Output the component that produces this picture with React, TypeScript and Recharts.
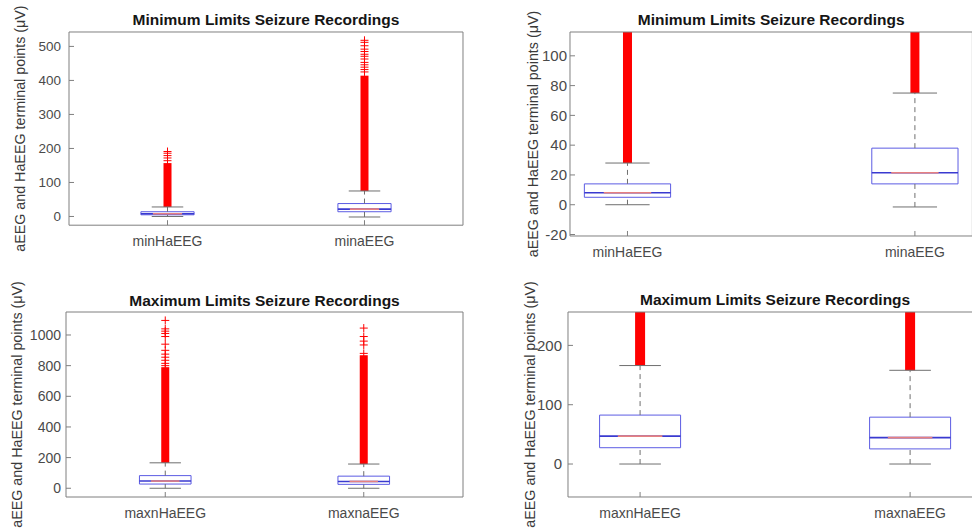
import React from 'react';
import { ComposedChart, XAxis, YAxis, ReferenceArea, ReferenceLine, Scatter, Label } from 'recharts';

// ---------- DATA ----------
const minCategories = ['minHaEEG', 'minaEEG'];
const maxCategories = ['maxnHaEEG', 'maxnaEEG'];

// box statistics: [lower whisker, q1, median, q3, upper whisker]
const minHaEEGStats = [0, 5, 8, 14, 28];
const minaEEGStats = [-1.5, 14, 21.5, 38, 75];
const maxnHaEEGStats = [0, 27.5, 47, 82.5, 166];
const maxnaEEGStats = [0, 25.5, 44.5, 79, 158];

// ranges where outliers are packed so densely they form a solid column: [from, to]
const minHaEEGDense = [28, 157];
const minaEEGDense = [75, 414];
const maxnHaEEGDense = [166, 790];
const maxnaEEGDense = [158, 868];

// isolated outliers above the dense run
const minHaEEGOutliers = [164, 172, 179, 186, 191];
const minaEEGOutliers = [425, 432, 439, 446, 453, 463, 471, 477, 485, 492, 502, 512, 518];
const maxnHaEEGOutliers = [800, 815, 835, 855, 875, 900, 940, 990, 1010, 1025, 1040, 1095];
const maxnaEEGOutliers = [880, 935, 960, 990, 1045];

// tick values
const minFullTicks = [0, 100, 200, 300, 400, 500];
const minZoomTicks = [-20, 0, 20, 40, 60, 80, 100];
const maxFullTicks = [0, 200, 400, 600, 800, 1000];
const maxZoomTicks = [0, 100, 200];
const categoryTicks = [1, 2];

const minTitle = 'Minimum Limits Seizure Recordings';
const maxTitle = 'Maximum Limits Seizure Recordings';
const yLabel = 'aEEG and HaEEG terminal points (\u03bcV)';

// ---------- LAYOUT ----------
const FONT = '"Liberation Sans", Arial, Helvetica, sans-serif';
const AXIS_W = 60;
const TOP_H = 30;
const BOTTOM_H = 40;
const RIGHT_W = 1;
const AXIS_COLOR = '#7f7f7f';
const TICK_COLOR = '#4a4a4a';
const BOX_COLOR = '#5b5be3';
const MEDIAN_BLUE = '#3a3ad0';
const MEDIAN_RED = '#e68080';
const WHISKER_COLOR = '#6e6e6e';
const OUT_COLOR = '#ff0000';

type Series = { stats: number[]; dense: number[]; outliers: number[] };

type PanelCfg = {
  plotLeft: number; plotTop: number; plotRight: number; plotBottom: number;
  xDomain: [number, number]; yDomain: [number, number]; yTicks: number[];
  categories: string[]; series: Series[]; title: string;
  boxHalf: number; capHalf: number; labelGap: number; yTickMargin: number; bandW: number;
  yTickFont: number;
};

const minSeries: Series[] = [
  { stats: minHaEEGStats, dense: minHaEEGDense, outliers: minHaEEGOutliers },
  { stats: minaEEGStats, dense: minaEEGDense, outliers: minaEEGOutliers },
];
const maxSeries: Series[] = [
  { stats: maxnHaEEGStats, dense: maxnHaEEGDense, outliers: maxnHaEEGOutliers },
  { stats: maxnaEEGStats, dense: maxnaEEGDense, outliers: maxnaEEGOutliers },
];

const panels: PanelCfg[] = [
  {
    plotLeft: 69, plotTop: 32.3, plotRight: 463, plotBottom: 225.5,
    xDomain: [0.5, 2.5], yDomain: [-25.6, 542.4], yTicks: minFullTicks,
    categories: minCategories, series: minSeries, title: minTitle,
    boxHalf: 0.135, capHalf: 0.08, labelGap: 49, yTickMargin: 13, bandW: 8, yTickFont: 13.5,
  },
  {
    plotLeft: 570, plotTop: 32, plotRight: 972.4, plotBottom: 236,
    xDomain: [0.8, 2.2], yDomain: [-21, 116], yTicks: minZoomTicks,
    categories: minCategories, series: minSeries, title: minTitle,
    boxHalf: 0.15, capHalf: 0.077, labelGap: 37, yTickMargin: 8, bandW: 9, yTickFont: 15,
  },
  {
    plotLeft: 66, plotTop: 312, plotRight: 463, plotBottom: 497,
    xDomain: [0.5, 2.5], yDomain: [-57, 1150], yTicks: maxFullTicks,
    categories: maxCategories, series: maxSeries, title: maxTitle,
    boxHalf: 0.13, capHalf: 0.079, labelGap: 49, yTickMargin: 10, bandW: 8, yTickFont: 14,
  },
  {
    plotLeft: 568, plotTop: 312, plotRight: 982.2, plotBottom: 497,
    xDomain: [0.733, 2.267], yDomain: [-55.6, 256.3], yTicks: maxZoomTicks,
    categories: maxCategories, series: maxSeries, title: maxTitle,
    boxHalf: 0.15, capHalf: 0.077, labelGap: 38, yTickMargin: 11, bandW: 10, yTickFont: 15,
  },
];

function Panel({ cfg }: { cfg: PanelCfg }) {
  const plotW = cfg.plotRight - cfg.plotLeft;
  const plotH = cfg.plotBottom - cfg.plotTop;
  const width = AXIS_W + plotW + RIGHT_W;
  const height = TOP_H + plotH + BOTTOM_H;
  const clipTop = TOP_H;
  const clipBottom = TOP_H + plotH;

  const PlusMarker = (props: any) => {
    const { cx, cy } = props;
    if (cx == null || cy == null) return null;
    if (cy < clipTop || cy > clipBottom) return null;
    const r = 4;
    return (
      <path
        d={`M${cx - r},${cy}H${cx + r}M${cx},${cy - r}V${cy + r}`}
        stroke={OUT_COLOR}
        strokeWidth={1}
        fill="none"
      />
    );
  };

  const renderYLabel = (p: any) => {
    const vb = p && p.viewBox ? p.viewBox : { x: 0, y: TOP_H, width: AXIS_W, height: plotH };
    const cx = vb.x + vb.width - cfg.labelGap;
    const cy = vb.y + vb.height / 2;
    return (
      <text
        x={cx}
        y={cy}
        transform={`rotate(-90, ${cx}, ${cy})`}
        textAnchor="middle"
        dominantBaseline="central"
        fontSize={14.3}
        fontFamily={FONT}
        fill="#3a3a3a"
      >
        {yLabel}
      </text>
    );
  };

  const renderTitle = (p: any) => {
    const vb = p && p.viewBox ? p.viewBox : { x: AXIS_W, y: 0, width: plotW, height: TOP_H };
    const cx = vb.x + vb.width / 2;
    const cy = vb.y + vb.height - 12;
    return (
      <text
        x={cx}
        y={cy}
        textAnchor="middle"
        dominantBaseline="central"
        fontSize={15.5}
        fontWeight="bold"
        fontFamily={FONT}
        fill="#151515"
      >
        {cfg.title}
      </text>
    );
  };

  const elements: React.ReactNode[] = [];
  cfg.series.forEach((s, i) => {
    const pos = i + 1;
    const [lo, q1, med, q3, hi] = s.stats;
    const bw = cfg.bandW;
    elements.push(
      <ReferenceArea
        key={`band${i}`}
        xAxisId="b"
        yAxisId="l"
        x1={pos - 0.001}
        x2={pos + 0.001}
        y1={s.dense[0]}
        y2={s.dense[1]}
        ifOverflow="hidden"
        shape={(p: any) => {
          const top = Math.max(p.y, clipTop);
          const bottom = Math.min(p.y + p.height, clipBottom);
          if (bottom <= top) return <g />;
          return (
            <rect x={p.x + p.width / 2 - bw / 2} y={top} width={bw} height={bottom - top} fill={OUT_COLOR} />
          );
        }}
      />,
      <ReferenceLine
        key={`wu${i}`}
        xAxisId="b"
        yAxisId="l"
        segment={[{ x: pos, y: q3 }, { x: pos, y: hi }]}
        stroke={WHISKER_COLOR}
        strokeDasharray="5 4"
        ifOverflow="hidden"
      />,
      <ReferenceLine
        key={`wl${i}`}
        xAxisId="b"
        yAxisId="l"
        segment={[{ x: pos, y: lo }, { x: pos, y: q1 }]}
        stroke={WHISKER_COLOR}
        strokeDasharray="5 4"
        ifOverflow="hidden"
      />,
      <ReferenceLine
        key={`cu${i}`}
        xAxisId="b"
        yAxisId="l"
        segment={[{ x: pos - cfg.capHalf, y: hi }, { x: pos + cfg.capHalf, y: hi }]}
        stroke={WHISKER_COLOR}
        ifOverflow="hidden"
      />,
      <ReferenceLine
        key={`cl${i}`}
        xAxisId="b"
        yAxisId="l"
        segment={[{ x: pos - cfg.capHalf, y: lo }, { x: pos + cfg.capHalf, y: lo }]}
        stroke={WHISKER_COLOR}
        ifOverflow="hidden"
      />,
      <ReferenceArea
        key={`box${i}`}
        xAxisId="b"
        yAxisId="l"
        x1={pos - cfg.boxHalf}
        x2={pos + cfg.boxHalf}
        y1={q1}
        y2={q3}
        fill="none"
        fillOpacity={0}
        stroke={BOX_COLOR}
        strokeWidth={1}
        ifOverflow="hidden"
      />,
      <ReferenceLine
        key={`mb${i}`}
        xAxisId="b"
        yAxisId="l"
        segment={[{ x: pos - cfg.boxHalf, y: med }, { x: pos + cfg.boxHalf, y: med }]}
        stroke={MEDIAN_BLUE}
        strokeWidth={1.6}
        ifOverflow="hidden"
      />,
      <ReferenceLine
        key={`mr${i}`}
        xAxisId="b"
        yAxisId="l"
        segment={[{ x: pos - cfg.boxHalf * 0.55, y: med }, { x: pos + cfg.boxHalf * 0.55, y: med }]}
        stroke={MEDIAN_RED}
        strokeWidth={1.6}
        ifOverflow="hidden"
      />
    );
  });

  const scatterData = cfg.series.flatMap((s, i) => s.outliers.map((v) => ({ x: i + 1, y: v })));

  return (
    <div style={{ position: 'absolute', left: cfg.plotLeft - AXIS_W, top: cfg.plotTop - TOP_H }}>
      <ComposedChart width={width} height={height} margin={{ top: 0, right: 0, bottom: 0, left: 0 }}>
        <XAxis
          xAxisId="b"
          orientation="bottom"
          type="number"
          dataKey="x"
          scale="linear"
          domain={cfg.xDomain}
          allowDataOverflow
          ticks={categoryTicks}
          interval={0}
          height={BOTTOM_H}
          tickFormatter={(v: number) => cfg.categories[Math.round(v) - 1] || ''}
          tick={{ fill: TICK_COLOR, fontSize: 14, fontFamily: FONT }}
          tickSize={-5}
          tickMargin={16}
          axisLine={{ stroke: AXIS_COLOR }}
          tickLine={{ stroke: AXIS_COLOR }}
        />
        <XAxis
          xAxisId="t"
          orientation="top"
          type="number"
          dataKey="x"
          scale="linear"
          domain={cfg.xDomain}
          allowDataOverflow
          ticks={categoryTicks}
          interval={0}
          height={TOP_H}
          tick={false}
          tickSize={-5}
          axisLine={{ stroke: AXIS_COLOR }}
          tickLine={{ stroke: AXIS_COLOR }}
        >
          <Label content={renderTitle} />
        </XAxis>
        <YAxis
          yAxisId="l"
          orientation="left"
          type="number"
          dataKey="y"
          scale="linear"
          domain={cfg.yDomain}
          allowDataOverflow
          ticks={cfg.yTicks}
          interval={0}
          width={AXIS_W}
          tick={{ fill: TICK_COLOR, fontSize: cfg.yTickFont, fontFamily: FONT }}
          tickSize={-5}
          tickMargin={cfg.yTickMargin}
          axisLine={{ stroke: AXIS_COLOR }}
          tickLine={{ stroke: AXIS_COLOR }}
        >
          <Label content={renderYLabel} />
        </YAxis>
        <YAxis
          yAxisId="r"
          orientation="right"
          type="number"
          dataKey="y"
          scale="linear"
          domain={cfg.yDomain}
          allowDataOverflow
          ticks={cfg.yTicks}
          interval={0}
          width={RIGHT_W}
          tick={false}
          tickSize={-5}
          axisLine={{ stroke: AXIS_COLOR }}
          tickLine={{ stroke: AXIS_COLOR }}
        />
        {elements}
        <Scatter
          xAxisId="b"
          yAxisId="l"
          data={scatterData}
          dataKey="y"
          shape={PlusMarker}
          isAnimationActive={false}
        />
      </ComposedChart>
    </div>
  );
}

export default function App() {
  return (
    <div
      style={{
        position: 'absolute',
        left: 0,
        top: 0,
        width: 972,
        height: 531,
        overflow: 'hidden',
        background: '#ffffff',
        fontFamily: FONT,
      }}
    >
      {panels.map((cfg, i) => (
        <Panel key={i} cfg={cfg} />
      ))}
    </div>
  );
}
